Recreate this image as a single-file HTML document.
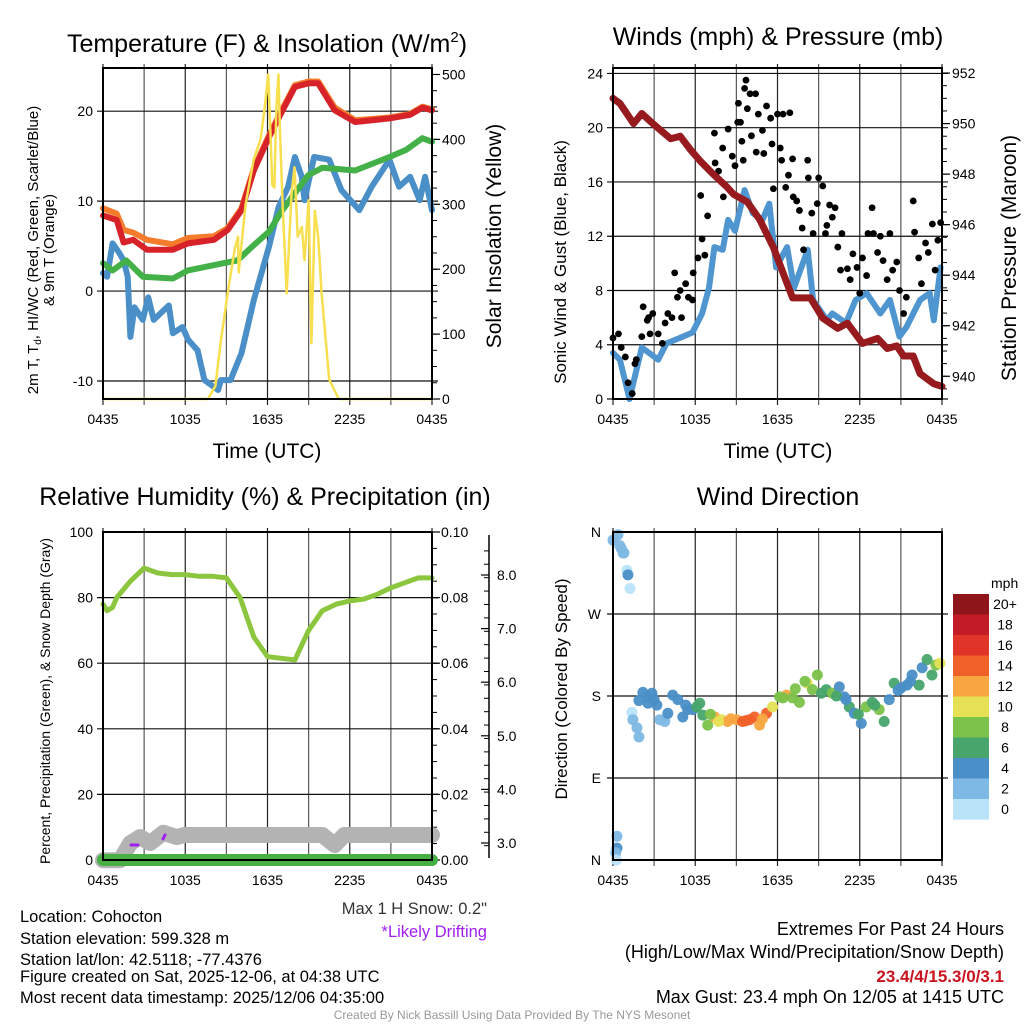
<!DOCTYPE html>
<html><head><meta charset="utf-8">
<style>
html,body{margin:0;padding:0;background:#fff;}
svg{display:block;font-family:"Liberation Sans",Arial,sans-serif;}
</style></head>
<body>
<svg id="chart" width="1024" height="1024" viewBox="0 0 1024 1024" xmlns="http://www.w3.org/2000/svg">
<rect width="1024" height="1024" fill="#fff"/>
<g id="layer"></g>
<!-- titles -->
<text x="267" y="52" font-size="25" text-anchor="middle">Temperature (F) &amp; Insolation (W/m<tspan font-size="15" dy="-10">2</tspan><tspan dy="10">)</tspan></text>
<text x="778" y="45" font-size="25" text-anchor="middle">Winds (mph) &amp; Pressure (mb)</text>
<text x="265" y="505" font-size="25" text-anchor="middle">Relative Humidity (%) &amp; Precipitation (in)</text>
<text x="778" y="505" font-size="25" text-anchor="middle">Wind Direction</text>
<!-- axis titles -->
<text x="267" y="458" font-size="21" text-anchor="middle">Time (UTC)</text>
<text x="778" y="458" font-size="21" text-anchor="middle">Time (UTC)</text>
<text transform="translate(38,250) rotate(-90)" font-size="15" text-anchor="middle">2m T, T<tspan font-size="10" dy="3">d</tspan><tspan dy="-3">, HI/WC (Red, Green, Scarlet/Blue)</tspan></text>
<text transform="translate(54,250) rotate(-90)" font-size="15" text-anchor="middle">&amp; 9m T (Orange)</text>
<text transform="translate(501,236) rotate(-90)" font-size="21" text-anchor="middle">Solar Insolation (Yellow)</text>
<text transform="translate(566,262) rotate(-90)" font-size="17" text-anchor="middle">Sonic Wind &amp; Gust (Blue, Black)</text>
<text transform="translate(1016,258) rotate(-90)" font-size="21" text-anchor="middle">Station Pressure (Maroon)</text>
<text transform="translate(50,701) rotate(-90)" font-size="14" text-anchor="middle">Percent, Precipitation (Green), &amp; Snow Depth (Gray)</text>
<text transform="translate(567,689) rotate(-90)" font-size="17" text-anchor="middle">Direction (Colored By Speed)</text>
<!-- notes -->
<g font-size="16.5">
<text x="20" y="922">Location: Cohocton</text>
<text x="20" y="944">Station elevation: 599.328 m</text>
<text x="20" y="965">Station lat/lon: 42.5118; -77.4376</text>
<text x="20" y="982">Figure created on Sat, 2025-12-06, at 04:38 UTC</text>
<text x="20" y="1003">Most recent data timestamp: 2025/12/06 04:35:00</text>
</g>
<text x="487" y="914" font-size="16.5" text-anchor="end" fill="#333">Max 1 H Snow: 0.2"</text>
<text x="487" y="937" font-size="16.5" text-anchor="end" fill="#a020f0">*Likely Drifting</text>
<g font-size="18" text-anchor="end">
<text x="1004" y="935">Extremes For Past 24 Hours</text>
<text x="1004" y="958">(High/Low/Max Wind/Precipitation/Snow Depth)</text>
<text x="1004" y="982" fill="#c8141e" font-weight="bold" font-size="17">23.4/4/15.3/0/3.1</text>
<text x="1004" y="1003">Max Gust: 23.4 mph On 12/05 at 1415 UTC</text>
</g>
<text x="512" y="1019" font-size="12" text-anchor="middle" fill="#999">Created By Nick Bassill Using Data Provided By The NYS Mesonet</text>
</svg>
<script>
// ---------- data ----------
const xTickLabels = ["0435","1035","1635","2235","0435"];
// Temperature panel (hours since 0435)
const redT = [0,1,1.5,2.2,3.2,5.1,6.2,8.1,9.1,10.1,11,12.1,13,14,15,15.7,16.9,18.4,20.9,22.4,23.3,24];
const redV = [8.4,7.9,5.4,5.7,4.6,4.6,5.3,5.7,6.8,9,13.4,17.1,19.8,22.7,23.1,23.1,20.1,18.8,19.2,19.6,20.4,20.1];
const orangeV = [9.2,8.6,6.8,6.5,5.7,5.2,5.9,6.1,7.0,9.2,13.6,17.3,20.0,22.9,23.3,23.3,20.4,19.0,19.3,19.7,20.5,20.2];
const greenT = [0,0.7,1.7,2.9,5.1,6.2,9.1,9.8,11,12.1,13,14,15,16,18.4,20.9,22.1,23.3,24];
const greenV = [3.1,2.3,3.4,1.6,1.4,2.3,3.2,3.4,5.1,6.6,8.8,10.9,12.9,13.7,13.4,14.9,15.7,17,16.6];
const blueT = [0,0.3,0.7,1.2,1.5,1.8,2,2.3,2.9,3.3,3.7,4.8,5.1,5.8,6.2,6.9,7.4,8.4,8.6,9.3,10.1,11,12.1,12.8,13.5,14,14.5,14.7,15.4,16.5,17.4,18.7,19.6,20.9,21.6,22.4,23.1,23.5,24];
const blueV = [2,1.6,5.3,4.2,3.4,1.6,-5.1,-1.8,-3.2,-0.7,-3.2,-1.6,-4.7,-4,-5.4,-6.6,-9.9,-11,-9.9,-9.9,-6.9,-1,4.9,9.3,11.6,14.9,12.7,10.1,14.9,14.6,11.2,9,11.6,14.6,11.6,12.7,10.1,12.7,9];
const solarT = [0,7.65,8.2,8.6,9.1,9.6,9.85,9.9,10.4,11,11.5,11.8,12.05,12.2,12.35,12.5,12.65,12.8,12.9,13.1,13.4,13.75,13.97,14.2,14.5,14.7,15,15.2,15.45,15.7,15.95,16.5,17.2,24];
const solarV = [0,0,20,90,163,230,250,195,300,370,400,450,500,420,330,326,450,500,420,300,163,317,357,250,265,214,306,86,290,250,163,30,0,0];
const tempTicks = [-10,0,10,20];
const solarTicks = [0,100,200,300,400,500];
// Winds panel
const windT = [0,0.5,1.2,1.7,2.1,3.3,3.9,5.1,5.8,6.5,7.0,7.4,8.0,8.4,8.9,9.6,10.2,10.9,11.4,11.9,12.7,13.2,14.2,14.6,15.6,16.0,17.0,17.7,18.5,19.5,20.2,20.9,21.4,22.4,23.1,23.4,23.9];
const windV = [3.4,2.9,0,2.1,3.8,2.9,4.1,4.6,4.9,6.3,8.2,11.2,11,13.2,12.4,15.4,13.7,13.2,14.4,9.7,11.2,8.2,11,7.3,5.8,6.3,5.6,7.3,7.8,6.3,7.3,4.6,5.3,7.3,7.8,5.8,9.7];
const gustT = [0,0.4,0.6,0.9,1.1,1.4,1.6,1.7,2.1,2.2,2.5,2.6,2.9,2.7,3.3,3.6,3.8,4.0,4.3,4.5,4.7,4.9,5.0,5.3,5.5,5.8,5.85,6.2,6.4,6.5,6.7,6.9,7.4,7.45,7.7,8.0,8.05,8.4,8.7,8.9,9.1,9.15,9.3,9.4,9.5,9.6,9.7,9.8,10.0,10.1,10.4,10.45,10.6,10.9,11.0,11.2,11.5,11.6,11.7,12.0,12.2,12.3,12.4,12.6,12.8,12.9,13.1,13.15,13.4,13.6,13.8,13.9,14.2,14.25,14.5,14.6,14.9,15.0,15.3,15.5,15.6,15.8,16.0,16.2,16.4,16.6,16.7,17.1,17.3,17.5,17.8,18.0,18.2,18.5,18.6,18.9,19.0,19.3,19.5,19.7,20.0,20.2,20.4,20.7,20.9,21.2,21.4,21.9,22.0,22.3,22.5,22.8,23.0,23.3,23.5,23.7,23.9];
const gustV = [4.5,4.8,3.8,3.1,1.2,0.4,2.6,2.9,4.6,6.8,5.8,6,6.3,4.8,4.8,4.1,5.6,6.3,6,9.3,7.5,8,6,8.5,7.5,7.3,9.3,10.4,15,11.8,10.6,13.5,19.6,17.4,16.8,18.5,14.9,19.9,17.9,17.2,20.4,21.8,20.4,19,17.6,22.9,23.5,21.4,22.5,19.4,22.5,18.2,21,19.8,18.1,21.6,20.7,18.8,15.5,21,18.5,17.6,21,15.6,16.5,21.1,17.7,14.9,14.6,13.9,12.6,11,17.6,16.3,13.7,12.2,14.4,16.3,15.7,12.2,12.8,14.3,13.4,14.1,11.2,9.5,12.2,9.6,8.8,10.7,9.7,7.8,10.4,9.1,12.2,14.1,12.2,10.8,12,10.2,8.8,12.2,9.5,10.1,8,6.3,7.5,14.6,12.3,10.4,8.5,11.5,10.8,12.9,9.5,11.7,13];
const presT = [0,0.5,1.5,2.1,2.9,4.2,4.9,5.6,6.4,7.3,8.3,8.8,9.8,10.7,11.7,12.4,13.1,14.4,15.3,16.4,17.1,18.2,19.3,20,20.7,21.2,21.9,22.4,23.4,24];
const presV = [951,950.8,950,950.4,950,949.4,949.5,949,948.5,948,947.5,947.2,946.9,946.2,945.1,944.1,943.1,943.1,942.3,941.9,942.1,941.3,941.5,941.1,941.2,940.8,940.8,940.1,939.7,939.6];
const windTicks = [0,4,8,12,16,20,24];
const presTicks = [940,942,944,946,948,950,952];
// Humidity panel
const rhT = [0,0.3,0.7,1,2,3,4,5,6,7,8,9,10,11,12,13,14,15,16,17,18,19,20,21,22,23,24];
const rhV = [78,76,77,80,85,89,87.5,87,87,86.5,86.5,86,80,68,62,61.5,61,70,76,78,79,79.5,81,83,84.5,86,86];
const snowT = [0,1.25,2,2.7,3.45,4.4,5.4,5.9,16,16.9,17.6,24];
const snowV = [2.68,2.68,3.0,3.11,3.0,3.19,3.11,3.15,3.15,2.96,3.15,3.15];
const precipT = [0,24];
const precipV = [0,0];
const rhTicks = [0,20,40,60,80,100];
const precipTicks = ["0.00","0.02","0.04","0.06","0.08","0.10"];
const snowTicks = ["3.0","4.0","5.0","6.0","7.0","8.0"];
// Wind direction panel
const dirT = [0,0.36,0.29,0.5,0.6,0.73,0.8,1.02,1.09,1.24,0.29,0.2,0.25,1.38,1.45,1.75,1.89,1.89,2.18,2.84,2.55,3.2,3.42,3.78,4.0,4.36,4.73,5.09,5.45,5.82,6.33,6.55,6.91,7.42,7.93,8.36,9.02,9.45,9.96,10.33,10.69,11.2,11.64,12.15,12.65,13.09,13.6,14.18,14.55,14.91,15.56,16.0,16.51,16.87,17.24,17.6,18.11,18.47,18.91,19.42,19.78,20.15,20.51,21.02,21.45,21.82,22.33,22.55,22.91,23.27,23.56,23.85,2.5,3.0,5.3,6.1,7.1,7.7,8.6,9.7,10.9,12.4,13.3,14.0,15.2,16.3,17.0,17.9,19.1,20.8,21.7];
const dirV = [351,357,26,345,342,337,337,318,313,298,13,8,0,162,154,145,135,175,184,183,172,170,154,152,161,181,176,157,165,165,172,159,148,157,154,152,154,152,154,157,148,161,168,179,181,178,173,194,187,203,187,183,190,179,168,161,150,168,173,165,152,176,194,189,192,203,192,211,220,203,214,216,179,176,170,168,160,152,155,153,155,178,188,196,183,180,176,160,170,186,196];
const dirS = [3,3,2,3,2,3,3,1,4,1,4,3,1,1,2,2,2,4,4,4,4,4,2,3,4,4,4,4,4,5,6,6,8,12,10,12,12,14,14,14,12,14,10,8,12,8,8,10,8,8,6,8,5,4,6,4,5,8,6,8,6,4,6,4,4,4,6,4,7,6,8,10,4,4,4,6,9,11,13,14,13,9,8,9,7,6,4,6,7,5,4];
const speedBins = ["20+","18","16","14","12","10","8","6","4","2","0"];
const binColors = ["#8e1519","#c21d26","#df3427","#f0612a","#f8a640","#e6e055","#7bc24a","#48a56c","#4a8fc7","#7eb8e4","#b9e3f9"];

// ---------- drawing ----------
const NS="http://www.w3.org/2000/svg";
const layer=document.getElementById('layer');
function el(tag,attrs,parent){const e=document.createElementNS(NS,tag);for(const k in attrs)e.setAttribute(k,attrs[k]);(parent||layer).appendChild(e);return e;}
const P1={x0:103,x1:432,y0:68,y1:399};
const P2={x0:613,x1:942,y0:68,y1:399};
const P3={x0:103,x1:432,y0:532,y1:860};
const P4={x0:613,x1:942,y0:532,y1:860};
function sx(p,t){return p.x0+(p.x1-p.x0)*t/24;}
function sy(p,v,lo,hi){return p.y1-(v-lo)/(hi-lo)*(p.y1-p.y0);}
const T1=[-12.0,24.8], S1=[0,510], W2=[0,24.4], PR=[939.1,952.2], R3=[0,100], PC=[0,0.1], D4=[0,360];
function snowY(v){return 843-(v-3)*53.6;}

function frameAndGrid(p,name,yvals){
  const g=el('g',{});
  
  
  for(let h=0;h<=24;h+=3){const x=sx(p,h);
    el('line',{x1:x,x2:x,y1:p.y0-4,y2:p.y1+6,stroke:'#222','stroke-width':1.2,'stroke-opacity':h%6?0.75:1},g);}
  yvals.forEach(y=>el('line',{x1:p.x0-6,x2:p.x1+6,y1:y,y2:y,stroke:'#111','stroke-width':1.2},g));
  for(let i=0;i<5;i++){const t=el('text',{x:sx(p,i*6),y:p.y1+25,'font-size':14,'text-anchor':'middle'},g);t.textContent=xTickLabels[i];
    
    }
  return g;
}
function border(p,name){const r=el('rect',{x:p.x0,y:p.y0,width:p.x1-p.x0,height:p.y1-p.y0,fill:'none',stroke:'#000','stroke-width':2});
  
  }
function line(p,ts,vs,fy,color,w,name){
  const pts=ts.map((t,i)=>sx(p,t).toFixed(1)+','+fy(vs[i]).toFixed(1)).join(' ');
  const l=el('polyline',{points:pts,fill:'none',stroke:color,'stroke-width':w,'stroke-linejoin':'round','stroke-linecap':'round'});
  
  
  return l;}
function label(x,y,txt,anchor,size,name){const t=el('text',{x:x,y:y,'font-size':size||14,'text-anchor':anchor||'start'});t.textContent=txt;
  
  return t;}
function rightMinor(p,fy,lo,hi,step){for(let v=lo;v<=hi+1e-9;v+=step){const y=fy(v);if(y<p.y0-1||y>p.y1+1)continue;el('line',{x1:p.x1,x2:p.x1+5,y1:y,y2:y,stroke:'#000','stroke-width':1});}}

// Panel 1
const fT=v=>sy(P1,v,T1[0],T1[1]), fS=v=>sy(P1,v,S1[0],S1[1]);
frameAndGrid(P1,'temperature',tempTicks.map(fT));
tempTicks.forEach(v=>label(P1.x0-10,fT(v)+5,String(v),'end',14,'temperature-y-tick'));
rightMinor(P1,fS,0,500,25);
solarTicks.forEach(v=>{el('line',{x1:P1.x1,x2:P1.x1+8,y1:fS(v),y2:fS(v),stroke:'#000','stroke-width':1.2});label(P1.x1+10,fS(v)+5,String(v),'start',14,'insolation-y-tick');});
line(P1,blueT,blueV,fT,'#4a8fc8',6,'heat-index-windchill-line');
line(P1,greenT,greenV,fT,'#44b048',6,'dewpoint-line');
line(P1,redT,orangeV,fT,'#f47c2c',6,'temperature-9m-line');
line(P1,redT,redV,fT,'#d8222a',6,'temperature-2m-line');
line(P1,solarT,solarV,fS,'#f8df4f',2.5,'solar-insolation-line');
border(P1,'temperature');

// Panel 2
const fW=v=>sy(P2,v,W2[0],W2[1]), fP=v=>sy(P2,v,PR[0],PR[1]);
frameAndGrid(P2,'winds',windTicks.map(fW));
windTicks.forEach(v=>label(P2.x0-10,fW(v)+5,String(v),'end',14,'wind-y-tick'));
rightMinor(P2,fP,939,952.2,0.5);
presTicks.forEach(v=>{el('line',{x1:P2.x1,x2:P2.x1+8,y1:fP(v),y2:fP(v),stroke:'#000','stroke-width':1.2});label(P2.x1+10,fP(v)+5,String(v),'start',14,'pressure-y-tick');});
line(P2,windT,windV,fW,'#4f95cf',6,'sonic-wind-line');
gustT.forEach((t,i)=>{const c=el('circle',{cx:sx(P2,t),cy:fW(gustV[i]),r:3.4,fill:'#000'});
  
  });
line(P2,presT,presV,fP,'#971b1e',7,'station-pressure-line');
border(P2,'winds');

// Panel 3
const fR=v=>sy(P3,v,R3[0],R3[1]), fPc=v=>sy(P3,v,PC[0],PC[1]);
frameAndGrid(P3,'humidity',[20,40,60,80].map(fR));
rhTicks.forEach(v=>label(P3.x0-10,fR(v)+5,String(v),'end',14,'humidity-y-tick'));
rightMinor(P3,fPc,0,0.1,0.005);
precipTicks.forEach(s=>{const v=parseFloat(s);el('line',{x1:P3.x1,x2:P3.x1+8,y1:fPc(v),y2:fPc(v),stroke:'#000','stroke-width':1.2});label(P3.x1+9,fPc(v)+5,s,'start',14,'precip-y-tick');});
const snowAxis=el('line',{x1:489,x2:489,y1:535,y2:858,stroke:'#000','stroke-width':1.5});


for(let v=2.7;v<=8.6;v+=0.25){const y=snowY(v);if(y<536||y>857)continue;el('line',{x1:484,x2:489,y1:y,y2:y,stroke:'#000','stroke-width':1});}
snowTicks.forEach(s=>{const y=snowY(parseFloat(s));el('line',{x1:481,x2:489,y1:y,y2:y,stroke:'#000','stroke-width':1.2});label(497,y+5,s,'start',14,'snow-y-tick');});
line(P3,snowT,snowV,snowY,'#b3b3b3',16,'snow-depth-line');
const d1=el('line',{x1:131,x2:138,y1:845,y2:845,stroke:'#a020f0','stroke-width':3,'stroke-linecap':'round'});


const d2=el('line',{x1:163,x2:165,y1:839,y2:835,stroke:'#a020f0','stroke-width':3,'stroke-linecap':'round'});


line(P3,precipT,precipV,fPc,'#46b045',12,'precipitation-line');
line(P3,rhT,rhV,fR,'#8cc63f',5,'relative-humidity-line');
border(P3,'humidity');

// Panel 4
const fD=v=>sy(P4,v,D4[0],D4[1]);
frameAndGrid(P4,'wind-direction',[90,180,270].map(fD));
["N","E","S","W","N"].forEach((s,i)=>label(P4.x0-12,fD(i*90)+5,s,'end',14,'direction-y-tick'));
dirT.forEach((t,i)=>{const s=dirS[i];const bin=Math.min(10,Math.floor(s/2));const col=binColors[10-bin];
  const c=el('circle',{cx:sx(P4,t),cy:fD(dirV[i]),r:5.5,fill:col,'fill-opacity':0.95});
  
  });
border(P4,'wind-direction');
// colorbar
const cb=el('g',{});


label(991,588,'mph','start',14,'colorbar-title');
speedBins.forEach((s,i)=>{const y=594+i*20.5;
  const r=el('rect',{x:953,y:y,width:36,height:20.7,fill:binColors[i]},cb);
  
  
  const t=el('text',{x:1005,y:y+15,'font-size':14,'text-anchor':'middle'},cb);t.textContent=s;
  
  });
</script>
</body></html>
